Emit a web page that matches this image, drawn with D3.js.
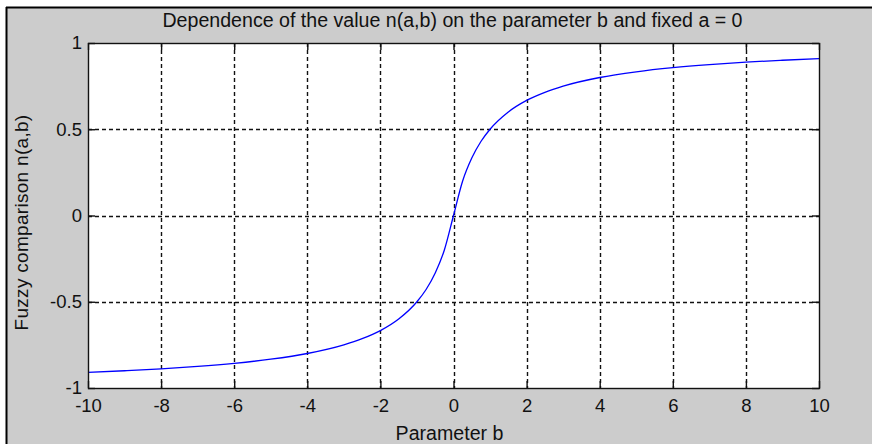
<!DOCTYPE html>
<html lang="en">
<head>
    <meta charset="UTF-8">
    <title>n(a,b) chart</title>
    <script src="https://cdn.jsdelivr.net/npm/d3@7"></script>
    <style>
        html, body { margin: 0; padding: 0; background: #fff; }
        #chart { width: 872px; height: 444px; }
        text { font-family: "Liberation Sans", Arial, sans-serif; fill: #111; }
    </style>
</head>
<body>
    <div id="chart"></div>
<script>
    // values
    const bValues = [-10, -9, -8, -7, -6, -5, -4, -3, -2.5, -2, -1.5, -1, -0.75, -0.5, -0.25, 0,
        0.25, 0.5, 0.75, 1, 1.5, 2, 2.5, 3, 4, 5, 6, 7, 8, 9, 10];
    const nValues = [-0.91, -0.9, -0.889, -0.875, -0.857, -0.833, -0.8, -0.75, -0.714, -0.667, -0.6, -0.5, -0.429, -0.333, -0.2, 0,
        0.2, 0.333, 0.429, 0.5, 0.6, 0.667, 0.714, 0.75, 0.8, 0.833, 0.857, 0.875, 0.889, 0.9, 0.91];
    const xTicks = [-10, -8, -6, -4, -2, 0, 2, 4, 6, 8, 10];
    const xTickLabels = ["-10", "-8", "-6", "-4", "-2", "0", "2", "4", "6", "8", "10"];
    const yTicks = [-1, -0.5, 0, 0.5, 1];
    const yTickLabels = ["-1", "-0.5", "0", "0.5", "1"];

    let draw = () => {
        let svg = d3.select("#chart").append("svg")
            .attr("width", 872)
            .attr("height", 444);

        // figure background, MATLAB style
        svg.append("rect").attr("width", 872).attr("height", 444).attr("fill", "#fff");
        svg.append("rect").attr("x", 6).attr("y", 7).attr("width", 866).attr("height", 437).attr("fill", "#cccccc");
        svg.append("line").attr("x1", 6).attr("x2", 872).attr("y1", 7.5).attr("y2", 7.5).attr("stroke", "#000").attr("stroke-width", 2);
        svg.append("line").attr("x1", 6.5).attr("x2", 6.5).attr("y1", 7).attr("y2", 444).attr("stroke", "#000").attr("stroke-width", 2);

        let padding = { top: 43, left: 88, bottom: 56, right: 53 };
        let width = 872 - padding.left - padding.right;
        let height = 444 - padding.top - padding.bottom;

        let focus = svg.append("g")
            .attr("transform", "translate(" + padding.left + "," + padding.top + ")");

        focus.append("rect").attr("width", width).attr("height", height).attr("fill", "#fff");

        let x = d3.scaleLinear().domain([-10, 10]).range([0, width]);
        let y = d3.scaleLinear().domain([-1, 1]).range([height, 0]);

        // dashed grid
        focus.append("g").selectAll("line").data(xTicks.slice(1, -1)).join("line")
            .attr("x1", d => Math.round(x(d)) + 0.5).attr("x2", d => Math.round(x(d)) + 0.5)
            .attr("y1", 0).attr("y2", height)
            .attr("stroke", "#111").attr("stroke-width", 1.4).attr("stroke-dasharray", "4,3");
        focus.append("g").selectAll("line").data(yTicks.slice(1, -1)).join("line")
            .attr("y1", d => Math.round(y(d)) + 0.5).attr("y2", d => Math.round(y(d)) + 0.5)
            .attr("x1", 0).attr("x2", width)
            .attr("stroke", "#111").attr("stroke-width", 1.4).attr("stroke-dasharray", "4,3");

        // curve
        let line = d3.line()
            .x((d, i) => x(bValues[i]))
            .y(d => y(d))
            .curve(d3.curveMonotoneX);
        focus.append("path")
            .datum(nValues)
            .attr("d", line)
            .attr("fill", "none")
            .attr("stroke", "#0000ff")
            .attr("stroke-width", 1.3);

        // axes, ticks inside on all sides
        let tl = 7;
        let xAxis = d3.axisBottom(x).tickValues(xTicks).tickFormat((d, i) => xTickLabels[i]).tickSizeInner(-tl).tickSizeOuter(0).tickPadding(11);
        let yAxis = d3.axisLeft(y).tickValues(yTicks).tickFormat((d, i) => yTickLabels[i]).tickSizeInner(-tl).tickSizeOuter(0).tickPadding(12);
        let xTop = d3.axisTop(x).tickValues(xTicks).tickSizeInner(-tl).tickSizeOuter(0).tickFormat("");
        let yRight = d3.axisRight(y).tickValues(yTicks).tickSizeInner(-tl).tickSizeOuter(0).tickFormat("");

        let gx = focus.append("g").attr("class", "xaxis").attr("transform", "translate(0," + height + ")").call(xAxis);
        let gy = focus.append("g").attr("class", "yaxis").call(yAxis);
        focus.append("g").call(xTop);
        focus.append("g").attr("transform", "translate(" + width + ",0)").call(yRight);

        focus.selectAll(".domain").remove();
        focus.selectAll(".tick line").attr("stroke", "#111").attr("stroke-width", 1.4);
        focus.append("rect").attr("x", 0.5).attr("y", 0.5).attr("width", width).attr("height", height)
            .attr("fill", "none").attr("stroke", "#111").attr("stroke-width", 1.4);

        gx.selectAll("text").attr("font-size", 18.5).attr("fill", "#111")
            .attr("font-family", '"Liberation Sans", Arial, sans-serif');
        gy.selectAll("text").attr("font-size", 18.5).attr("fill", "#111")
            .attr("font-family", '"Liberation Sans", Arial, sans-serif')
            .attr("x", -6);

        // title and labels
        svg.append("text").attr("x", padding.left + width / 2 - 1).attr("y", 27)
            .attr("text-anchor", "middle").attr("font-size", 19.6)
            .text("Dependence of the value n(a,b) on the parameter b and fixed a = 0");
        svg.append("text").attr("x", padding.left + width / 2 - 4).attr("y", 440)
            .attr("text-anchor", "middle").attr("font-size", 19.6)
            .text("Parameter b");
        svg.append("text").attr("transform", "translate(28," + (padding.top + height / 2 + 7) + ") rotate(-90)")
            .attr("text-anchor", "middle").attr("font-size", 19)
            .attr("letter-spacing", 0.3)
            .text("Fuzzy comparison n(a,b)");
    }

    draw();
</script>
</body>
</html>
